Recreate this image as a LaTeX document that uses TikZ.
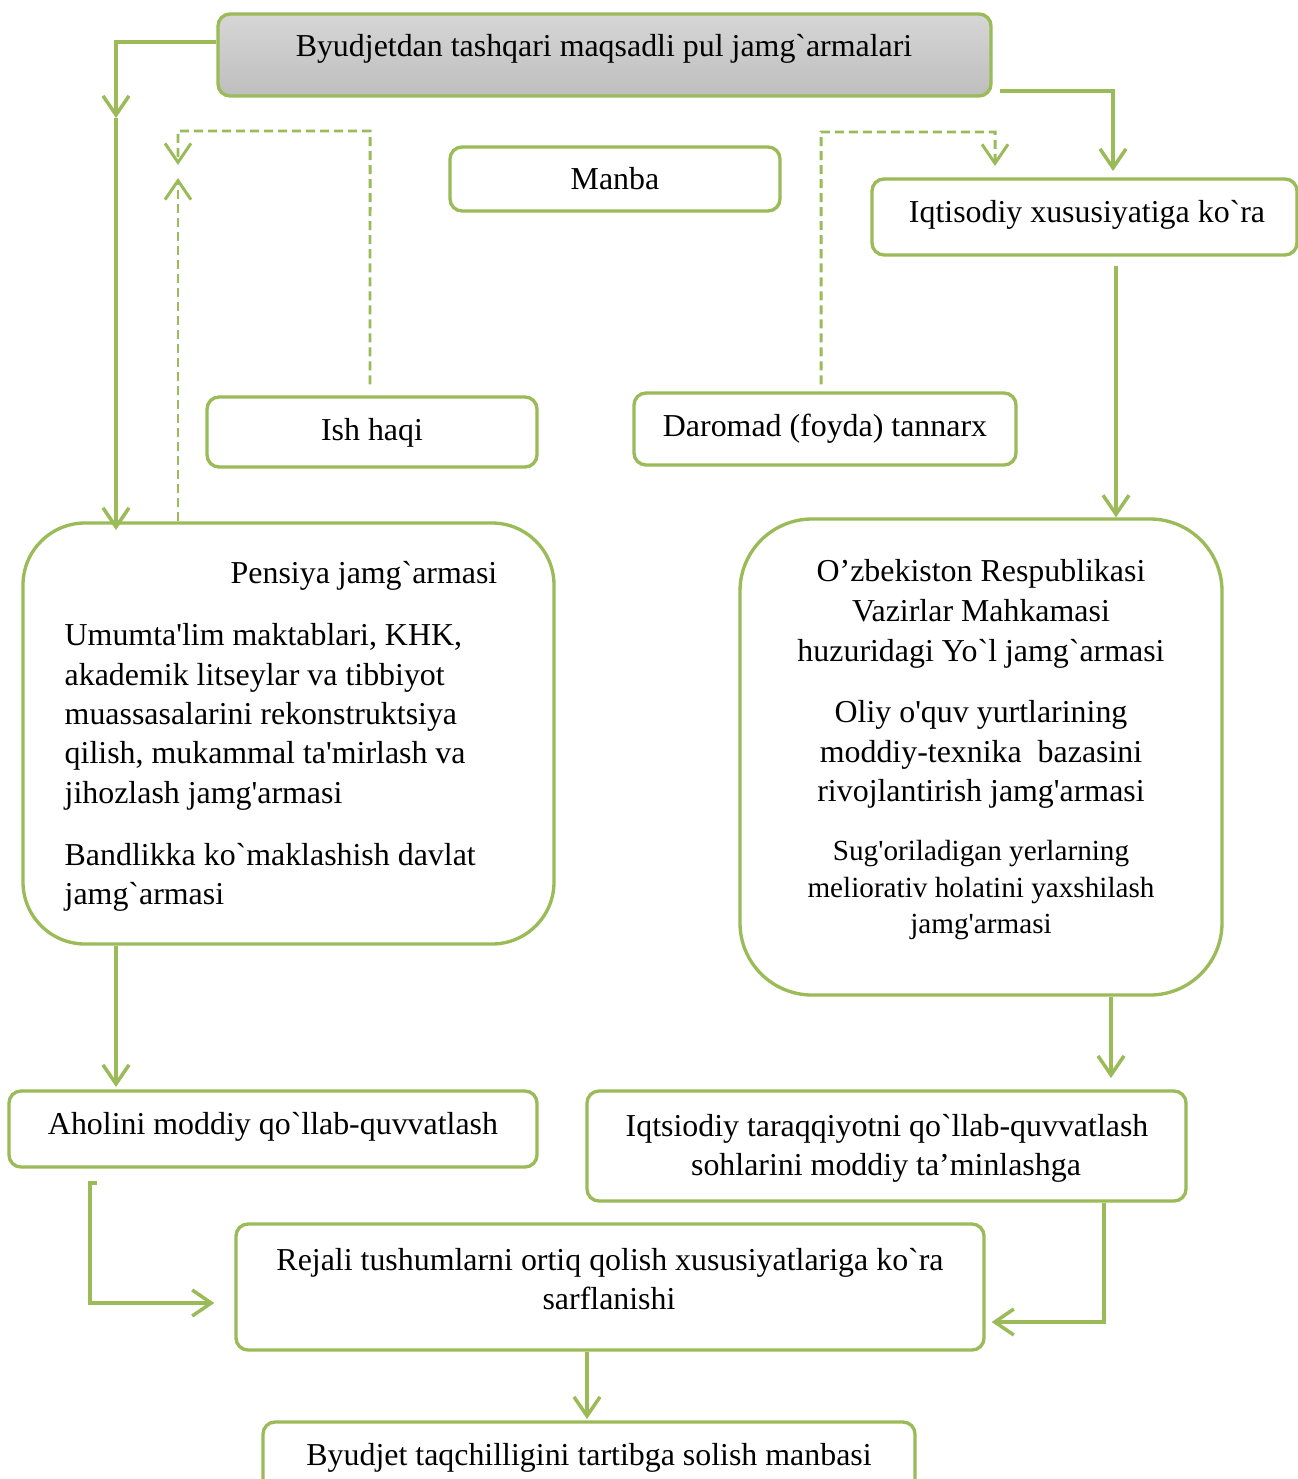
\documentclass[tikz,border=0pt]{standalone}
\usepackage{fontspec}
\setmainfont{Liberation Serif}[Ligatures=TeXOff]
\usetikzlibrary{arrows.meta,fit}
\definecolor{gr}{HTML}{9BBB59}
\definecolor{gtop}{RGB}{214,214,214}
\definecolor{gbot}{RGB}{190,190,190}
\begin{document}
\begin{tikzpicture}[x=0.01cm,y=-0.01cm,
  box/.style={draw=gr, line width=0.95pt, rounded corners=0.12cm, inner sep=0pt},
  conn/.style={draw=gr, line width=1pt, -{Straight Barb[length=0.19cm,width=0.26cm]}},
  dconn/.style={conn, line width=0.85pt, dash pattern=on 0.09cm off 0.05cm},
  txt/.style={inner sep=0pt, yshift=-0.03cm, text height=0.21cm, text depth=0.07cm, font=\fontsize{9.07}{11.2}\selectfont},
  stxt/.style={inner sep=0pt, yshift=-0.03cm, text height=0.19cm, text depth=0.065cm, font=\fontsize{8.3}{10.4}\selectfont}]
\fill[white] (0,0) rectangle (1297,1479);
\useasboundingbox (0,0) rectangle (1297,1479);

% boxes
\node[box, top color=gtop, bottom color=gbot, fit={(218,14)(991,96)}] (top) {};
\node[box, fit={(450,147)(780,211)}] (manba) {};
\node[box, fit={(872,179)(1297,255)}] (iqt) {};
\node[box, fit={(207,397)(537,467)}] (ish) {};
\node[box, fit={(634,393)(1016,465)}] (dar) {};
\node[box, rounded corners=0.62cm, fit={(23,523)(554,944)}] (pens) {};
\node[box, rounded corners=0.72cm, fit={(740,519)(1222,995)}] (yol) {};
\node[box, fit={(9,1091)(537,1167)}] (aho) {};
\node[box, fit={(587,1091)(1186,1201)}] (taraq) {};
\node[box, fit={(236,1224)(984,1350)}] (rej) {};
\node[box, fit={(263,1422)(915,1500)}] (byu) {};

% texts
\node[txt] (ttop) at (604,46) {Byudjetdan tashqari maqsadli pul jamg`armalari};
\node[txt] (tmanba) at (615,179) {Manba};
\node[txt] (tiqt) at (1087,212) {Iqtisodiy xususiyatiga ko`ra};
\node[txt] (tish) at (372,430) {Ish haqi};
\node[txt] (tdar) at (825,426) {Daromad (foyda) tannarx};
\node[txt] (tpens) at (364,573) {Pensiya jamg`armasi};
\node[txt, anchor=west] (l1) at (64,635) {Umumta'lim maktablari, KHK,};
\node[txt, anchor=west] (l2) at (64,675) {akademik litseylar va tibbiyot};
\node[txt, anchor=west] (l3) at (64,714) {muassasalarini rekonstruktsiya};
\node[txt, anchor=west] (l4) at (64,753) {qilish, mukammal ta'mirlash va};
\node[txt, anchor=west] (l5) at (64,793) {jihozlash jamg'armasi};
\node[txt, anchor=west] (l6) at (64,855) {Bandlikka ko`maklashish davlat};
\node[txt, anchor=west] (l7) at (64,894) {jamg`armasi};
\node[txt] (r1) at (981,571) {O’zbekiston Respublikasi};
\node[txt] (r2) at (981,611) {Vazirlar Mahkamasi};
\node[txt] (r3) at (981,651) {huzuridagi Yo`l jamg`armasi};
\node[txt] (r4) at (981,712) {Oliy o'quv yurtlarining};
\node[txt] (r5) at (981,752) {moddiy-texnika\ \ bazasini};
\node[txt] (r6) at (981,791) {rivojlantirish jamg'armasi};
\node[stxt] (r7) at (981,851) {Sug'oriladigan yerlarning};
\node[stxt] (r8) at (981,888) {meliorativ holatini yaxshilash};
\node[stxt] (r9) at (981,924) {jamg'armasi};
\node[txt] (taho) at (273,1124) {Aholini moddiy qo`llab-quvvatlash};
\node[txt] (tt1) at (887,1126) {Iqtsiodiy taraqqiyotni qo`llab-quvvatlash};
\node[txt] (tt2) at (886,1165) {sohlarini moddiy ta’minlashga};
\node[txt] (trej1) at (610,1260) {Rejali tushumlarni ortiq qolish xususiyatlariga ko`ra};
\node[txt] (trej2) at (609,1299) {sarflanishi};
\node[txt] (tbyu) at (589,1455) {Byudjet taqchilligini tartibga solish manbasi};

% connectors
\coordinate (a1) at (116,118);
\draw[conn] (top.west |- 0,42) -| (a1);
\draw[conn] (a1) -- (116,530);
\draw[dconn] ([xshift=-0.02cm,yshift=0.11cm]ish.north) -- (370,131) -| (178,165);
\draw[dconn] (pens.north -| 178,0) -- (178,178);
\draw[dconn] ([xshift=-0.04cm,yshift=0.07cm]dar.north) -- (821,132) -| (995,166);
\draw[conn] ([xshift=0.07cm]top.east |- 0,91) -| (1113,171);
\draw[conn] (1116,266) -- (yol.north -| 1116,0);
\draw[conn] (pens.south -| 116,0) -- (116,1087);
\draw[conn] (yol.south -| 1111,0) -- (1111,1078);
\draw[conn] (97,1183) -- (90,1183) |- ([xshift=-0.2cm]rej.west |- 0,1303);
\draw[conn] (taraq.south -| 1104,0) |- ([xshift=0.06cm]rej.east |- 0,1322);
\draw[conn] (rej.south -| 587,0) -- (587,1419);
\end{tikzpicture}
\end{document}
